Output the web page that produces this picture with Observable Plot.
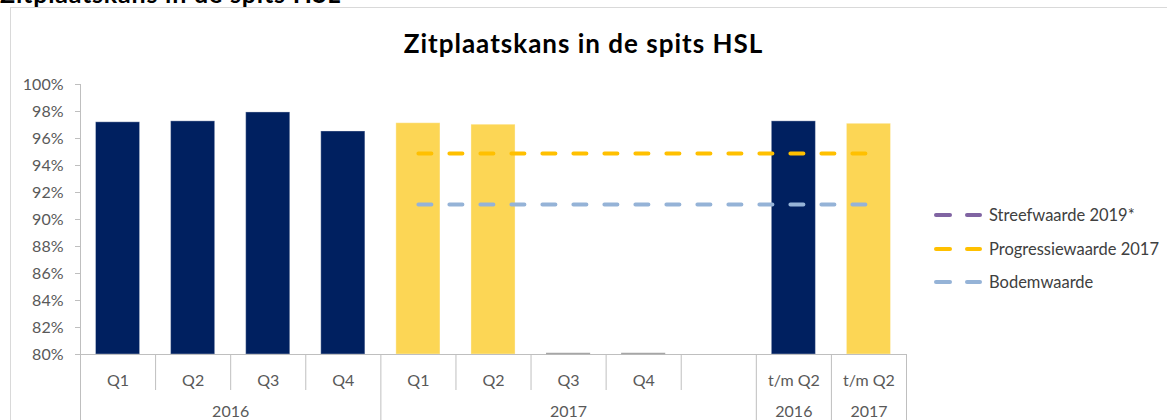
<!DOCTYPE html>
<html>
<head>
<meta charset="utf-8">
<script src="https://cdn.jsdelivr.net/npm/d3@7"></script>
<script src="https://cdn.jsdelivr.net/npm/@observablehq/plot@0.6"></script>
<style>
  html, body { margin: 0; padding: 0; background: #fff; }
  body { width: 1167px; height: 420px; overflow: hidden; position: relative; font-family: Lato, "Open Sans", sans-serif; }
  #frame { position: absolute; left: 10px; top: 7px; width: 1300px; height: 600px; border: 1px solid #d9d9d9; box-sizing: border-box; }
  #clipped { position: absolute; left: 0px; top: -19px; font-size: 25px; line-height: 25px; letter-spacing: 0.8px; font-weight: bold; color: #000; white-space: nowrap; }
  #title { position: absolute; left: 0; width: 1167px; top: 28px; text-align: center; font-size: 26px; line-height: 30px; letter-spacing: 1px; font-weight: bold; color: #000; }
  #chart { position: absolute; left: 0; top: 0; }
  .leg { position: absolute; left: 930px; height: 20px; display: flex; align-items: center; font-size: 16.5px; color: #404040; white-space: nowrap; }
  .leg svg { margin-right: 3px; }
</style>
</head>
<body>
<div id="clipped">Zitplaatskans in de spits HSL</div>
<div id="frame"></div>
<div id="chart"></div>
<div id="title">Zitplaatskans in de spits HSL</div>
<div id="legend"></div>
<script>
// ---- data ----
const title = "Zitplaatskans in de spits HSL";
const quarters = ["Q1", "Q2", "Q3", "Q4", "Q1", "Q2", "Q3", "Q4", "", "t/m Q2", "t/m Q2"];
const years    = ["2016", "2016", "2016", "2016", "2017", "2017", "2017", "2017", "2017", "2016", "2017"];
const values   = [97.2, 97.27, 97.93, 96.52, 97.13, 97.02, 0, 0, null, 97.27, 97.09];
const barColorByYear = {"2016": "#002060", "2017": "#fcd655"};
const seriesNames = ["Streefwaarde 2019*", "Progressiewaarde 2017", "Bodemwaarde"];
const seriesColors = ["#8064a2", "#ffc000", "#95b3d7"];
const streefwaarde = [null, null, null, null, null, null, null, null, null, null, null];
const progressiewaarde = [null, null, null, null, 94.88, 94.88, 94.88, 94.88, 94.88, 94.88, 94.88];
const bodemwaarde = [null, null, null, null, 91.12, 91.12, 91.12, 91.12, 91.12, 91.12, 91.12];
const yTicks = [80, 82, 84, 86, 88, 90, 92, 94, 96, 98, 100];
// year-group boundaries of the two-level category axis
const groupBreaks = [0, 4, 9, 10, 11];

// ---- tables ----
const cats = quarters.map((q, i) => ({i, q, year: years[i], v: values[i]}));
const bars = cats.filter(d => d.v != null && d.v >= 80);
const zeroBars = cats.filter(d => d.v === 0);
const groups = groupBreaks.slice(0, -1).map((b, k) => ({start: b, end: groupBreaks[k + 1], year: years[b]}));
const shortSeps = d3.range(1, quarters.length).filter(b => !groupBreaks.includes(b));
const lines = [];
[streefwaarde, progressiewaarde, bodemwaarde].forEach((arr, s) => {
  arr.forEach((v, i) => { if (v != null) lines.push({series: seriesNames[s], i, v}); });
});

const axisGray = "#bfbfbf";
const textGray = "#595959";

const chart = Plot.plot({
  width: 1167,
  height: 420,
  marginLeft: 80,
  marginRight: 261,
  marginTop: 84,
  marginBottom: 66,
  style: {fontFamily: "Lato, 'Open Sans', sans-serif", fontSize: "16px", background: "transparent", overflow: "visible"},
  x: {type: "linear", domain: [0, quarters.length], axis: null},
  y: {domain: [80, 100], axis: null},
  color: {domain: seriesNames, range: seriesColors},
  marks: [
    Plot.rectY(bars, {x1: d => d.i, x2: d => d.i + 1, y1: 80, y2: "v", insetLeft: 15.5, insetRight: 15.5,
      fill: d => barColorByYear[d.year], stroke: "#ffffff", strokeOpacity: 0.35, strokeWidth: 1}),
    // y axis
    Plot.ruleX([0], {stroke: axisGray}),
    Plot.axisY({ticks: yTicks, tickFormat: d => d + "%", label: null, tickSize: 5, tickPadding: 12, stroke: axisGray, fill: textGray, fontSize: 16}),
    // x axis
    Plot.ruleY([80], {stroke: axisGray}),
    Plot.ruleY(zeroBars, {x1: d => d.i, x2: d => d.i + 1, y: 80, insetLeft: 15.5, insetRight: 15.5, stroke: "#a6a6a6", strokeWidth: 1.5, dy: -1}),
    Plot.ruleX(shortSeps, {x: d => d, insetTop: 270, insetBottom: -36, stroke: axisGray}),
    Plot.ruleX(groupBreaks, {x: d => d, insetTop: 270, insetBottom: -66, stroke: axisGray}),
    Plot.text(cats, {x: d => d.i + 0.5, text: "q", frameAnchor: "bottom", dy: 26, lineAnchor: "middle", fill: textGray, fontSize: 16}),
    Plot.text(groups, {x: d => (d.start + d.end) / 2, text: "year", frameAnchor: "bottom", dy: 57, lineAnchor: "middle", fill: textGray, fontSize: 16}),
    // reference lines
    Plot.line(lines, {x: d => d.i + 0.5, y: "v", z: "series", stroke: "series", strokeWidth: 4,
      strokeDasharray: "13,18", strokeLinecap: "round"})
  ]
});
document.getElementById("chart").appendChild(chart);
document.getElementById("title").textContent = title;
document.getElementById("clipped").textContent = title;

// legend
const legendRows = [215, 249, 282];
const legend = document.getElementById("legend");
seriesNames.forEach((name, k) => {
  const row = document.createElement("div");
  row.className = "leg";
  row.style.top = (legendRows[k] - 10) + "px";
  row.innerHTML = `<svg width="56" height="10"><line x1="6" y1="5" x2="20" y2="5" stroke="${seriesColors[k]}" stroke-width="4" stroke-linecap="round"/><line x1="37" y1="5" x2="50" y2="5" stroke="${seriesColors[k]}" stroke-width="4" stroke-linecap="round"/></svg><span>${name}</span>`;
  legend.appendChild(row);
});
</script>
</body>
</html>
